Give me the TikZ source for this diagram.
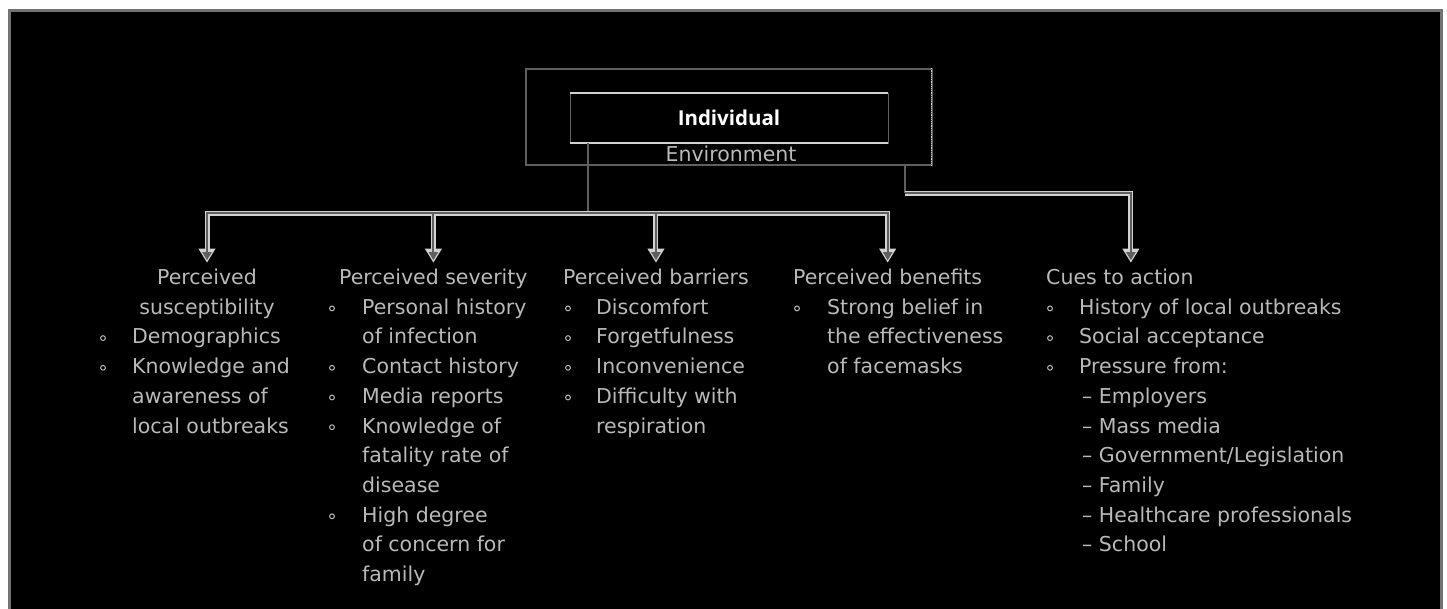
\documentclass[tikz,border=0pt]{standalone}
\usepackage{fontspec}
\newfontfamily\bodyfont{DejaVu Sans}
\newfontfamily\indfont{Open Sans}
\usetikzlibrary{arrows.meta}
\definecolor{clight}{RGB}{210,210,210}
\definecolor{cdark}{RGB}{95,95,95}
\definecolor{ctext}{RGB}{185,185,185}
\definecolor{cframe}{RGB}{115,115,115}
\tikzset{
  txt/.style={anchor=base west, inner sep=0pt, text=ctext, font=\bodyfont\fontsize{20.5}{24}\selectfont},
  ctxt/.style={txt, anchor=base},
  bul/.style={draw=ctext, line width=1pt},
  envbox/.style={draw=cdark, line width=1.5pt, minimum width=406pt, minimum height=96pt, inner sep=0pt},
  indbox/.style={draw=cdark, line width=0.8pt, minimum width=318pt, minimum height=50pt, inner sep=0pt, text=white, font=\indfont\bfseries\fontsize{20.5}{24}\selectfont},
  thinconn/.style={draw=cdark, line width=2pt},
  connout/.style={draw=clight, line width=5pt, -{Triangle[width=16pt,length=14pt]}},
  connin/.style={draw=cdark, line width=2pt, -{Triangle[width=9pt,length=8pt]}, shorten >=2.5pt},
}
\newcommand\tline[4]{\node[txt] (#1) at (#2,{284.5+29.7*#3}) {#4};}
\newcommand\tbul[2]{\draw[bul] (#1,{278.7+29.7*#2}) circle[radius=2.4pt];}
\begin{document}
\begin{tikzpicture}[x=1pt,y=-1pt]
\useasboundingbox (0,0) rectangle (1447,608);
\fill[white] (0,0) rectangle (1447,608);
\draw[cframe, line width=3pt, fill=black] (9.5,10.5) rectangle (1441.5,615);

% top boxes
\node[envbox] (env) at (729,117) {};
\draw[clight, densely dotted, line width=1.2pt] ([xshift=-1pt]env.north east) -- ([xshift=-1pt]env.south east);
\node[indbox, text depth=0pt] (ind) at (729,118) {Individual};
\draw[clight, line width=2pt] (ind.north west) -- (ind.north east);
\draw[clight, line width=2pt] (ind.south west) -- (ind.south east);
\node[ctxt] (envlbl) at (731,161) {Environment};

% headings
\node[ctxt] (h1) at (207,284.5) {Perceived};
\node[ctxt] (h1b) at (207,314.2) {susceptibility};
\node[txt] (h2) at (339,284.5) {Perceived severity};
\node[txt] (h3) at (563,284.5) {Perceived barriers};
\node[txt] (h4) at (793,284.5) {Perceived benefits};
\node[txt] (h5) at (1046,284.5) {Cues to action};

% column 1
\tline{a1}{132}{2}{Demographics}\tbul{103}{2}
\tline{a2}{132}{3}{Knowledge and}\tbul{103}{3}
\tline{a3}{132}{4}{awareness of}
\tline{a4}{132}{5}{local outbreaks}

% column 2
\tline{b1}{362}{1}{Personal history}\tbul{332}{1}
\tline{b2}{362}{2}{of infection}
\tline{b3}{362}{3}{Contact history}\tbul{332}{3}
\tline{b4}{362}{4}{Media reports}\tbul{332}{4}
\tline{b5}{362}{5}{Knowledge of}\tbul{332}{5}
\tline{b6}{362}{6}{fatality rate of}
\tline{b7}{362}{7}{disease}
\tline{b8}{362}{8}{High degree}\tbul{332}{8}
\tline{b9}{362}{9}{of concern for}
\tline{b10}{362}{10}{family}

% column 3
\tline{c1}{596}{1}{Discomfort}\tbul{568}{1}
\tline{c2}{596}{2}{Forgetfulness}\tbul{568}{2}
\tline{c3}{596}{3}{Inconvenience}\tbul{568}{3}
\tline{c4}{596}{4}{Difficulty with}\tbul{568}{4}
\tline{c5}{596}{5}{respiration}

% column 4
\tline{d1}{827}{1}{Strong belief in}\tbul{797}{1}
\tline{d2}{827}{2}{the effectiveness}
\tline{d3}{827}{3}{of facemasks}

% column 5
\tline{e1}{1079}{1}{History of local outbreaks}\tbul{1050}{1}
\tline{e2}{1079}{2}{Social acceptance}\tbul{1050}{2}
\tline{e3}{1079}{3}{Pressure from:}\tbul{1050}{3}
\tline{e4}{1082}{4}{– Employers}
\tline{e5}{1082}{5}{– Mass media}
\tline{e6}{1082}{6}{– Government/Legislation}
\tline{e7}{1082}{7}{– Family}
\tline{e8}{1082}{8}{– Healthcare professionals}
\tline{e9}{1082}{9}{– School}

% connectors
\coordinate (j) at (588,213);
\coordinate (k) at (905,193);
\coordinate (t1) at ([yshift=6pt]h1.north);
\coordinate (t2) at ([yshift=6pt]h2.north);
\coordinate (t3) at ([yshift=6pt]h3.north);
\coordinate (t4) at ([yshift=6pt]h4.north);
\coordinate (t5) at ([xshift=11pt,yshift=6pt]h5.north);
\draw[thinconn] (ind.south -| j) -- (j);
\draw[thinconn] (env.south -| k) -- (k);
\foreach \st in {connout,connin}{
  \draw[\st] (j) -| (t1);
  \draw[\st] (j) -| (t4);
  \draw[\st] (t2 |- j) -- (t2);
  \draw[\st] (t3 |- j) -- (t3);
  \draw[\st] (k) -| (t5);
}
\end{tikzpicture}
\end{document}
